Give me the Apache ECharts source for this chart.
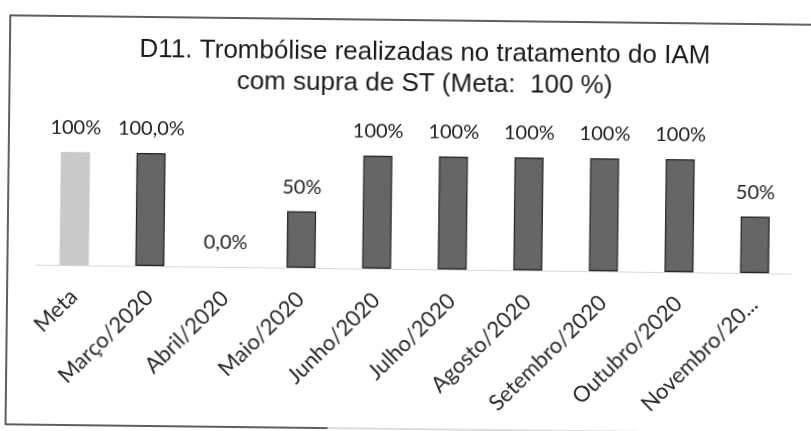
<!DOCTYPE html>
<html>
<head>
<meta charset="utf-8">
<script src="https://cdn.jsdelivr.net/npm/echarts@6/dist/echarts.min.js"></script>
<style>
  html, body { margin: 0; padding: 0; background: #fff; overflow: hidden; }
  /* the reference is a slightly skewed scan */
  #main { width: 811px; height: 431px; transform: rotate(0.67deg); }
</style>
</head>
<body>
<div id="main"></div>
<script>
// data
var categories = ['Meta', 'Março/2020', 'Abril/2020', 'Maio/2020', 'Junho/2020', 'Julho/2020',
                  'Agosto/2020', 'Setembro/2020', 'Outubro/2020', 'Novembro/2020'];
var values = [100, 100, 0, 50, 100, 100, 100, 100, 100, 50];
var valueLabels = ['100%', '100,0%', '0,0%', '50%', '100%', '100%', '100%', '100%', '100%', '50%'];
var axisLabels = ['Meta', 'Março/2020', 'Abril/2020', 'Maio/2020', 'Junho/2020', 'Julho/2020',
                  'Agosto/2020', 'Setembro/2020', 'Outubro/2020', 'Novembro/20...'];

var myChart = echarts.init(document.getElementById('main'));

var option = {
    backgroundColor: '#fff',
    title: {
        text: 'D11. Trombólise realizadas no tratamento do IAM\ncom supra de ST (Meta:  100 %)',
        left: 418,
        top: 32,
        textAlign: 'center',
        textStyle: {
            fontFamily: 'Liberation Sans',
            fontSize: 26,
            fontWeight: 'normal',
            color: '#1a1a1a',
            lineHeight: 31
        }
    },
    graphic: [
        {
            type: 'polyline',
            shape: { points: [[811, 20], [8, 20], [8, 429], [330, 429]] },
            style: { stroke: '#2a2a2a', lineWidth: 1.5, fill: null }
        },
        {
            type: 'line',
            shape: { x1: 330, y1: 429, x2: 640, y2: 429 },
            style: { stroke: '#bbb', lineWidth: 1 }
        }
    ],
    grid: {
        left: 37,
        right: 18,
        top: 156,
        bottom: 162
    },
    xAxis: {
        type: 'category',
        data: categories,
        axisLine: { show: true, lineStyle: { color: '#d0d0d0', type: 'dotted', width: 1 } },
        axisTick: { show: false },
        axisLabel: {
            rotate: 45,
            margin: 28,
            interval: 0,
            fontFamily: 'Lato',
            fontSize: 22,
            color: '#2a2a2a',
            formatter: function (v, i) { return axisLabels[i]; }
        }
    },
    yAxis: {
        type: 'value',
        min: 0,
        max: 100,
        show: false
    },
    series: [
        {
            type: 'bar',
            barWidth: 29,
            data: values.map(function (v, i) {
                var style;
                if (i === 0) {
                    style = { color: '#c9c9c9', borderColor: '#bbb', borderWidth: 0.5 };
                } else if (v === 0) {
                    style = { color: '#6b6b6b', borderWidth: 0 };
                } else {
                    style = { color: '#666', borderColor: '#222', borderWidth: 1.2 };
                }
                return { value: v, itemStyle: style };
            }),
            label: {
                show: true,
                position: 'top',
                distance: 14,
                fontFamily: 'Lato',
                fontSize: 20,
                color: '#222',
                formatter: function (p) { return valueLabels[p.dataIndex]; }
            }
        }
    ]
};

myChart.setOption(option);
window.onresize = myChart.resize;
</script>
</body>
</html>
